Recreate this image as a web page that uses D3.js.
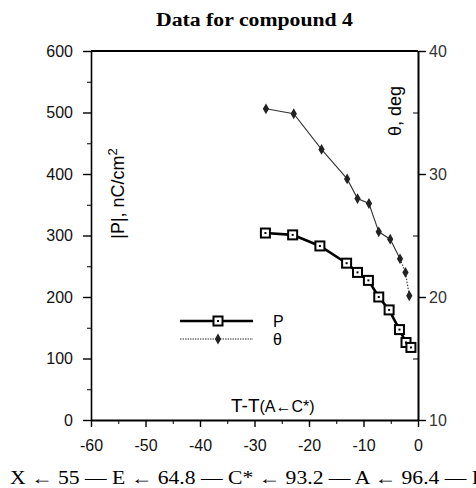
<!DOCTYPE html>
<html>
<head>
<meta charset="utf-8">
<script src="https://cdn.jsdelivr.net/npm/d3@7"></script>
<style>
  body { margin: 0; background: #fff; }
  svg { display: block; font-family: "Liberation Sans", Arial, sans-serif; }
  .axis text { font-size: 16px; fill: #111; }
  .axis line, .axis path { stroke: #000; }
</style>
</head>
<body>
<div id="chart"></div>
<script>
// T - T(A<-C*) in degrees, polarization |P| in nC/cm2, tilt angle theta in deg
const tempsP = [-28, -23, -18, -13.1, -11.1, -9.1, -7.2, -5.3, -3.4, -2.2, -1.3];
const polarization = [304, 301, 283, 255, 240, 227, 200, 179, 147, 126, 118];
const tempsTheta = [-27.9, -22.8, -17.7, -13.0, -11.1, -9.0, -7.2, -5.1, -3.3, -2.3, -1.6];
const tilt = [35.3, 34.9, 32.0, 29.6, 28.0, 27.6, 25.3, 24.7, 23.1, 22.0, 20.1];

const xTicks = [-60, -50, -40, -30, -20, -10, 0];
const pTicks = [0, 100, 200, 300, 400, 500, 600];
const thetaTicks = [10, 20, 30, 40];
const legendLabels = ["P", "\u03b8"];
const phases = ["X", "E", "C*", "A", "I"];
const transitions = [55, 64.8, 93.2, 96.4];

const W = 476, H = 488;
const margin = {top: 51, right: 58, bottom: 68, left: 91};

const svg = d3.select("#chart").append("svg")
    .attr("width", W)
    .attr("height", H);

const x = d3.scaleLinear().domain([-60, 0]).range([margin.left, W - margin.right]);
const yP = d3.scaleLinear().domain([0, 600]).range([H - margin.bottom, margin.top]);
const yT = d3.scaleLinear().domain([10, 40]).range([H - margin.bottom, margin.top]);

// title
svg.append("text")
    .attr("x", 156)
    .attr("y", 26)
    .attr("textLength", 197)
    .attr("lengthAdjust", "spacingAndGlyphs")
    .style("font-family", "'Liberation Serif', 'Times New Roman', serif")
    .style("font-weight", "bold")
    .style("font-size", "18px")
    .text("Data for compound 4");

// minor ticks first, major axes on top
svg.append("g")
    .attr("class", "axis")
    .attr("transform", `translate(${margin.left},0)`)
    .call(d3.axisLeft(yP).tickValues(d3.range(50, 600, 100)).tickSize(4).tickSizeOuter(0).tickFormat(""))
    .call(g => g.select(".domain").remove());

svg.append("g")
    .attr("class", "axis")
    .attr("transform", `translate(0,${yP(0)})`)
    .call(d3.axisBottom(x).tickValues(d3.range(-55, 0, 10)).tickSize(4).tickSizeOuter(0).tickFormat(""))
    .call(g => g.select(".domain").remove());

svg.append("g")
    .attr("class", "axis")
    .attr("transform", `translate(${x(0)},0)`)
    .call(d3.axisRight(yT).tickValues([15, 25, 35]).tickSize(-5).tickSizeOuter(0).tickFormat(""))
    .call(g => g.select(".domain").remove());

const leftAxis = svg.append("g")
    .attr("class", "axis")
    .attr("transform", `translate(${margin.left},0)`)
    .call(d3.axisLeft(yP).tickValues(pTicks).tickSize(8).tickPadding(10).tickSizeOuter(0).tickFormat(d => d));
leftAxis.select(".domain").attr("stroke-width", 1.6);
leftAxis.selectAll(".tick line").attr("stroke-width", 1.4);

const bottomAxis = svg.append("g")
    .attr("class", "axis")
    .attr("transform", `translate(0,${yP(0)})`)
    .call(d3.axisBottom(x).tickValues(xTicks).tickSize(7).tickPadding(13).tickSizeOuter(0).tickFormat(d => String(d)));
bottomAxis.select(".domain").attr("stroke-width", 2);
bottomAxis.selectAll(".tick line").attr("stroke-width", 1.4);

const rightAxis = svg.append("g")
    .attr("class", "axis")
    .attr("transform", `translate(${x(0)},0)`)
    .call(d3.axisRight(yT).tickValues(thetaTicks).tickSize(8).tickPadding(3).tickSizeOuter(0).tickFormat(d => d));
rightAxis.select(".domain").attr("stroke-width", 2);
rightAxis.selectAll(".tick line").attr("stroke-width", 1.4);
rightAxis.selectAll("text").style("fill", "#333");

// top frame line
svg.append("line")
    .attr("x1", x(-60)).attr("x2", x(0))
    .attr("y1", yP(600)).attr("y2", yP(600))
    .attr("stroke", "#000")
    .attr("stroke-width", 1.8);

// axis titles
svg.append("text")
    .attr("transform", `translate(124,${yP(300) - 42}) rotate(-90)`)
    .attr("text-anchor", "middle")
    .style("font-size", "18px")
    .html("|P|, nC/cm<tspan dy='-7' font-size='13px'>2</tspan>");

svg.append("text")
    .attr("transform", `translate(401,111) rotate(-90)`)
    .attr("text-anchor", "middle")
    .style("font-size", "18px")
    .text("\u03b8, deg");

const xLabel = svg.append("text")
    .attr("x", 231)
    .attr("y", 412)
    .style("font-size", "19px");
xLabel.append("tspan").text("T-T");
xLabel.append("tspan").style("font-size", "16px").text("(A\u2190C*)");

// theta series: thin line, dotted near the transition
const thetaData = tempsTheta.map((t, i) => ({t: t, v: tilt[i]}));
const thetaLine = d3.line().x(d => x(d.t)).y(d => yT(d.v));

svg.append("path")
    .datum(thetaData.slice(0, 9))
    .attr("fill", "none")
    .attr("stroke", "#333")
    .attr("stroke-width", 1.1)
    .attr("d", thetaLine);

svg.append("path")
    .datum(thetaData.slice(8))
    .attr("fill", "none")
    .attr("stroke", "#444")
    .attr("stroke-width", 1.2)
    .attr("stroke-dasharray", "1.5,1.5")
    .attr("d", thetaLine);

const diamond = d3.symbol().type(d3.symbolDiamond).size(34);

svg.selectAll(".theta-pt")
    .data(thetaData)
    .enter()
    .append("path")
    .attr("class", "theta-pt")
    .attr("transform", d => `translate(${x(d.t)},${yT(d.v)})`)
    .attr("d", diamond)
    .attr("fill", "#222");

// polarization series: thick line with open squares
const pData = tempsP.map((t, i) => ({t: t, v: polarization[i]}));
const pLine = d3.line().x(d => x(d.t)).y(d => yP(d.v));

svg.append("path")
    .datum(pData)
    .attr("fill", "none")
    .attr("stroke", "#000")
    .attr("stroke-width", 2.6)
    .attr("d", pLine);

const drawSquare = (sel) =>
{
    sel.append("rect")
        .attr("x", -4.5).attr("y", -4.5)
        .attr("width", 9).attr("height", 9)
        .attr("fill", "#fff")
        .attr("stroke", "#000")
        .attr("stroke-width", 2);
    sel.append("rect")
        .attr("x", -1).attr("y", -1)
        .attr("width", 2).attr("height", 2)
        .attr("fill", "#000");
};

svg.selectAll(".p-pt")
    .data(pData)
    .enter()
    .append("g")
    .attr("class", "p-pt")
    .attr("transform", d => `translate(${x(d.t)},${yP(d.v)})`)
    .call(drawSquare);

// legend
const legend = svg.append("g").attr("transform", "translate(180,321)");
legend.selectAll(".leg")
    .data(legendLabels)
    .enter()
    .append("g")
    .attr("class", "leg")
    .attr("transform", (d, i) => `translate(0,${i * 18})`)
    .each(function(d, i)
    {
        const g = d3.select(this);
        g.append("line")
            .attr("x1", 0).attr("x2", 73)
            .attr("stroke", i == 0 ? "#000" : "#777")
            .attr("stroke-width", i == 0 ? 2.6 : 1.3)
            .attr("stroke-dasharray", i == 0 ? null : "1.5,1");
        if (i == 0)
        {
            g.append("g").attr("transform", "translate(38,0)").call(drawSquare);
        }
        else
        {
            g.append("path").attr("transform", "translate(38,0)").attr("d", diamond).attr("fill", "#222");
        }
        g.append("text")
            .attr("x", 93)
            .attr("y", 6)
            .style("font-size", "16px")
            .text(d);
    });

// phase sequence below the chart
let seq = phases[0];
transitions.forEach((t, i) => { seq += ` \u2190 ${t} \u2014 ${phases[i + 1]}`; });
svg.append("text")
    .attr("x", 10)
    .attr("y", 484)
    .attr("textLength", 469)
    .attr("lengthAdjust", "spacingAndGlyphs")
    .style("font-family", "'Liberation Serif', 'Times New Roman', serif")
    .style("font-size", "18px")
    .text(seq);
</script>
</body>
</html>
